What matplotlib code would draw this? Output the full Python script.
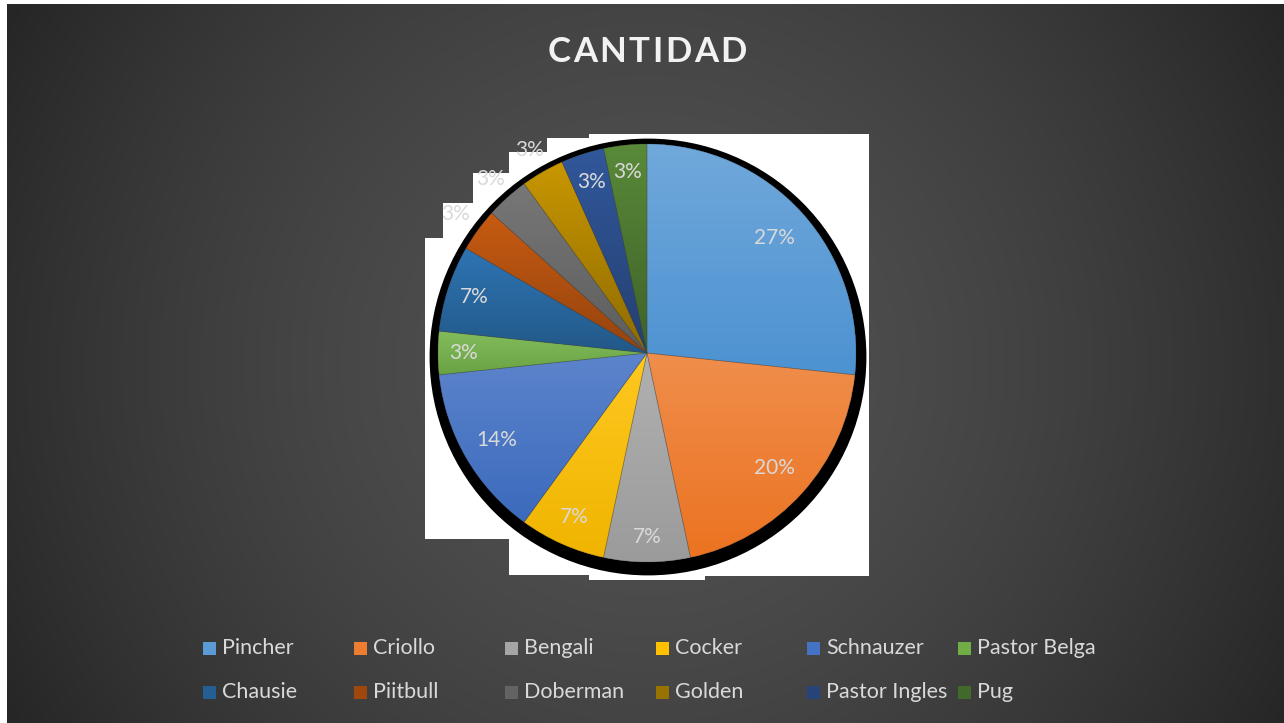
import colorsys
import numpy as np
import matplotlib
matplotlib.use("Agg")
import matplotlib.pyplot as plt
from matplotlib.patches import Polygon, Circle, Wedge, Rectangle
from matplotlib.colors import to_rgb

plt.rcParams["font.family"] = ["Lato", "DejaVu Sans"]

# data (slice sizes from the angles, labels as printed)
breeds = ["Pincher", "Criollo", "Bengali", "Cocker", "Schnauzer", "Pastor Belga",
          "Chausie", "Piitbull", "Doberman", "Golden", "Pastor Ingles", "Pug"]
counts = [8, 6, 2, 2, 4, 1, 2, 1, 1, 1, 1, 1]
pct_labels = ["27%", "20%", "7%", "7%", "14%", "3%", "7%", "3%", "3%", "3%", "3%", "3%"]
colors = ["#5B9BD5", "#ED7D31", "#A5A5A5", "#FFC000", "#4472C4", "#70AD47",
          "#255E91", "#9E480E", "#636363", "#997300", "#264478", "#43682B"]
# where each percentage label sits, as a fraction of the radius
label_dist = [0.82, 0.82, 0.88, 0.86, 0.83, 0.88, 0.87, 1.13, 1.12, 1.12, 0.86, 0.87]

W, H = 1284, 723
fig = plt.figure(figsize=(W / 100, H / 100), dpi=100, facecolor="white")

# radial gradient background (white strip left/top like the screenshot)
bg = fig.add_axes([7 / W, 0, 1 - 7 / W, 1 - 4 / H], zorder=-1)
yy, xx = np.mgrid[0:H - 4, 0:W - 7]
d = np.hypot(xx - 640, yy - 360) / 730
d = np.clip(d, 0, 1) ** 1.6
inner, outer = 0x52 / 255, 0x26 / 255
shade = inner + (outer - inner) * d
bg.imshow(np.dstack([shade] * 3), aspect="auto", interpolation="bilinear")
bg.axis("off")

# pie axes: center (647, 353) px, radius 209 px
cx, cy, R = 647, 353, 209
half = 290
ax = fig.add_axes([(cx - half) / W, 1 - (cy + half) / H, 2 * half / W, 2 * half / H])
lim = half / R
ax.axis("off")


def px(x, y):
    return ((x - cx) / R, (cy - y) / R)


def light(c, k):
    h, l, s = colorsys.rgb_to_hls(*to_rgb(c))
    return np.array(colorsys.hls_to_rgb(h, l + (1 - l) * k, s))


def dark(c, k):
    h, l, s = colorsys.rgb_to_hls(*to_rgb(c))
    return np.array(colorsys.hls_to_rgb(h, l * k, s))


# white rendering artefact behind the pie
stairs = [(589, 134), (869, 134), (869, 576), (705, 576), (705, 580), (589, 580),
          (589, 575), (509, 575), (509, 539), (425, 539), (425, 238), (443, 238),
          (443, 203), (473, 203), (473, 173), (509, 173), (509, 152), (547, 152),
          (547, 138), (589, 138)]
ax.add_patch(Polygon([px(*p) for p in stairs], closed=True, fc="white", ec="none", zorder=0))

# black shadow
ax.add_patch(Circle((1 / R, -4 / R), 1.045, fc="black", ec="none", zorder=1))

wedges, _ = ax.pie(counts, colors=colors, startangle=90, counterclock=False,
                   radius=1, wedgeprops=dict(linewidth=0, zorder=2))

# vertical gradient inside each slice
for w, c in zip(wedges, colors):
    top = light(c, 0.13)
    bottom = dark(c, 0.94)
    t = np.linspace(0, 1, 64)[:, None]
    grad = top * (1 - t) + bottom * t
    ext = w.get_path().get_extents()
    im = ax.imshow(grad[:, None, :], extent=[ext.x0, ext.x1, ext.y0, ext.y1],
                   aspect="auto", interpolation="bilinear", zorder=2.5)
    im.set_clip_path(w)
    ax.add_patch(Wedge((0, 0), 1, w.theta1, w.theta2, fill=False,
                       ec=(0.25, 0.25, 0.25, 0.35), lw=0.5, zorder=3))

for w, lab, dist in zip(wedges, pct_labels, label_dist):
    ang = np.deg2rad((w.theta1 + w.theta2) / 2)
    ax.text(dist * np.cos(ang), dist * np.sin(ang), lab, ha="center", va="center",
            color="#D9D9D9", fontsize=15, zorder=4)

ax.set_xlim(-lim, lim)
ax.set_ylim(-lim, lim)

# title with a little letter spacing
title = "CANTIDAD"
renderer = fig.canvas.get_renderer()
tstyle = dict(fontsize=25, fontweight="bold", color="#F2F2F2", va="center", ha="left")
widths = []
for ch in title:
    t = fig.text(0, 0, ch, **tstyle)
    widths.append(t.get_window_extent(renderer).width)
    t.remove()
gap = 2.5
total = sum(widths) + gap * (len(title) - 1)
x = 647 - total / 2
for ch, wdt in zip(title, widths):
    fig.text(x / W, 1 - 52 / H, ch, **tstyle)
    x += wdt + gap

# legend, two rows of six evenly spaced entries
for i, (name, c) in enumerate(zip(breeds, colors)):
    row, col = divmod(i, 6)
    x0 = 203 + 151 * col
    yc = 648 + 44 * row
    fig.patches.append(Rectangle((x0 / W, 1 - (yc + 7) / H), 13 / W, 13 / H,
                                 transform=fig.transFigure, fc=c, ec="none"))
    fig.text((x0 + 19) / W, 1 - yc / H, name, ha="left", va="center",
             fontsize=15.5, color="#D9D9D9")

fig.savefig("out.png", dpi=100, facecolor=fig.get_facecolor())
